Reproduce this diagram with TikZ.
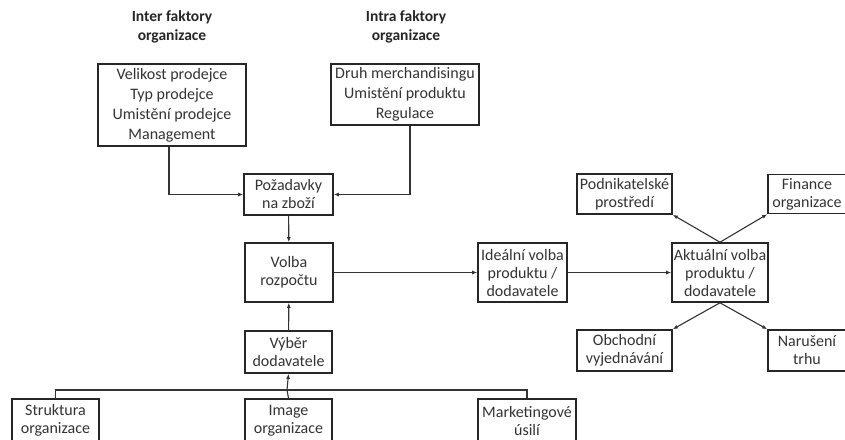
\documentclass[tikz,border=0pt]{standalone}
\usepackage{fontspec}
\setmainfont{Carlito}
\usetikzlibrary{arrows.meta}
\begin{document}
\begin{tikzpicture}[x=1pt,y=-1pt,
  box/.style={draw=black!85, line width=1.6pt, align=center, inner sep=0pt,
    font=\fontsize{16}{18}\selectfont, text=black!80},
  bigbox/.style={box, font=\fontsize{16}{20}\selectfont},
  head/.style={align=center, font=\bfseries\fontsize{15.5}{19}\selectfont, text=black!85},
  conn/.style={draw=black!80, line width=1.1pt},
  arr/.style={conn, -{Latex[length=5pt,width=4pt]}}]
\useasboundingbox (0,0) rectangle (845,439);
\clip (0,0) rectangle (845,439);

% column headings
\node[head] (hinter) at (172,27) {Inter faktory\\organizace};
\node[head] (hintra) at (406,27) {Intra faktory\\organizace};

% factor lists
\node[bigbox, minimum width=148, minimum height=82] (vel) at (172,105)
  {Velikost prodejce\\Typ prodejce\\Umistění prodejce\\Management};
\node[bigbox, minimum width=148, minimum height=61] (druh) at (405,94.5)
  {Druh merchandisingu\\Umistění produktu\\Regulace};

% central chain
\node[box, minimum width=89, minimum height=41] (poz) at (288.5,194.5) {Požadavky\\na zboží};
\node[box, minimum width=88, minimum height=59] (volba) at (289,272.5) {Volba\\rozpočtu};
\node[box, minimum width=87, minimum height=42] (vyber) at (288.5,352) {Výběr\\dodavatele};

% bottom row
\node[box, minimum width=87, minimum height=43] (strukt) at (55.5,420.5) {Struktura\\organizace};
\node[box, minimum width=87, minimum height=43] (img) at (288.5,420.5) {Image\\organizace};
\node[box, minimum width=98, minimum height=43] (mark) at (527,420.5) {Marketingové\\úsilí};

% product choice
\node[box, minimum width=89, minimum height=59] (ideal) at (522.5,272.5) {Ideální volba\\produktu /\\dodavatele};
\node[box, minimum width=96, minimum height=59] (akt) at (720,272.5) {Aktuální volba\\produktu /\\dodavatele};

% influences on the actual choice
\node[box, minimum width=95, minimum height=40] (podn) at (624.5,194) {Podnikatelské\\prostředí};
\node[box, minimum width=78, minimum height=39] (fin) at (807,194) {Finance\\organizace};
\node[box, minimum width=95, minimum height=41] (obch) at (624.5,350.5) {Obchodní\\vyjednávání};
\node[box, minimum width=78, minimum height=41] (nar) at (807,350.5) {Narušení\\trhu};

% connectors
\draw[arr] ([xshift=-3pt]vel.south) |- (poz.west);
\draw[arr] ([xshift=5pt]druh.south) |- (poz.east);
\draw[arr] (poz) -- (volba);
\draw[arr] (vyber) -- (volba);
\draw[arr] (volba) -- (ideal);
\draw[arr] (ideal) -- (akt);

\coordinate (bus) at (287,390);
\draw[conn] (strukt.north) |- (bus) -| (mark.north);
\draw[conn] (img.north) -- (bus);
\draw[arr] (bus) -- (vyber.south);

\draw[arr] (akt.north) -- (podn.south east);
\draw[arr] (akt.north) -- (fin.south west);
\draw[arr] (akt.south) -- (obch.north east);
\draw[arr] (akt.south) -- (nar.north west);
\end{tikzpicture}
\end{document}
